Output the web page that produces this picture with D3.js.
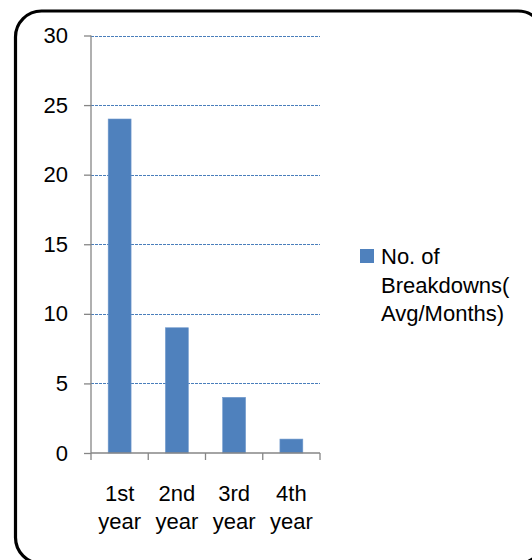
<!DOCTYPE html>
<html>
<head>
<meta charset="utf-8">
<script src="https://cdn.jsdelivr.net/npm/d3@7"></script>
<style>
  html, body { margin: 0; padding: 0; background: #fff; }
  svg { display: block; }
  text { font-family: "Liberation Sans", Arial, sans-serif; fill: #000; }
</style>
</head>
<body>
<svg id="chart" width="532" height="560"></svg>
<script>
const categories = [["1st", "year"], ["2nd", "year"], ["3rd", "year"], ["4th", "year"]];
const values = [24, 9, 4, 1];
const yTicks = [0, 5, 10, 15, 20, 25, 30];
const legendLines = ["No. of", "Breakdowns(", "Avg/Months)"];

const svg = d3.select("#chart");
const keys = categories.map(c => c.join(" "));
const FS = 22;

// outer rounded border
svg.append("rect")
  .attr("x", 15.5).attr("y", 11)
  .attr("width", 528.5).attr("height", 552.5)
  .attr("rx", 26).attr("ry", 26)
  .attr("fill", "none").attr("stroke", "#000").attr("stroke-width", 3.2);

const x = d3.scaleBand().domain(keys).range([91, 320]).paddingInner(0.6).paddingOuter(0.3);
const y = d3.scaleLinear().domain([0, 30]).range([453, 35.5]);

// gridlines
svg.append("g").selectAll("line")
  .data(yTicks.filter(d => d > 0))
  .join("line")
  .attr("x1", 91).attr("x2", 320)
  .attr("y1", d => Math.round(y(d)) + 0.5).attr("y2", d => Math.round(y(d)) + 0.5)
  .attr("stroke", "#4a7ebb").attr("stroke-width", 1)
  .attr("stroke-dasharray", "3,1");

// bars
svg.append("g").selectAll("rect")
  .data(values)
  .join("rect")
  .attr("x", (d, i) => x(keys[i]))
  .attr("y", d => y(d))
  .attr("width", x.bandwidth())
  .attr("height", d => y(0) - y(d))
  .attr("fill", "#4f81bd")
  .attr("stroke", "#6f98cc").attr("stroke-width", 0.6);

// y axis
const yAxis = d3.axisLeft(y).tickValues(yTicks).tickSize(7).tickPadding(16).tickFormat(d3.format("d"));
const gy = svg.append("g").attr("transform", "translate(91,0)").call(yAxis);
gy.attr("font-size", FS).attr("font-family", "Liberation Sans, Arial, sans-serif");
gy.select(".domain").attr("stroke", "#868686").attr("stroke-width", 1.3).attr("d", `M0,${y(30)}V${y(0)}`);
gy.selectAll(".tick line").attr("stroke", "#868686").attr("stroke-width", 1.3);
gy.selectAll(".tick text").attr("font-size", FS).attr("fill", "#000");

// x axis
const gx = svg.append("g").attr("transform", `translate(0,${y(0)})`);
gx.append("line").attr("x1", 91).attr("x2", 320).attr("y1", 0).attr("y2", 0)
  .attr("stroke", "#868686").attr("stroke-width", 1.3);
const bounds = keys.map(k => x(k) - x.step() * x.paddingInner() / 2).concat([320]);
bounds[0] = 91;
gx.selectAll("line.tk").data(bounds).join("line").attr("class", "tk")
  .attr("x1", d => d).attr("x2", d => d).attr("y1", 0).attr("y2", 7)
  .attr("stroke", "#868686").attr("stroke-width", 1.3);
const lbl = gx.selectAll("text.xl").data(categories).join("text").attr("class", "xl")
  .attr("text-anchor", "middle").attr("font-size", FS);
lbl.selectAll("tspan").data((d, i) => d.map(s => ({ s, i })))
  .join("tspan")
  .attr("x", d => x(keys[d.i]) + x.bandwidth() / 2)
  .attr("y", (d, j) => 48 + j * 28)
  .text(d => d.s);

// legend
svg.append("rect").attr("x", 360).attr("y", 249).attr("width", 14).attr("height", 14).attr("fill", "#4f81bd");
svg.append("g").selectAll("text").data(legendLines).join("text")
  .attr("x", 381).attr("y", (d, i) => 264 + i * 28.5)
  .attr("font-size", FS).text(d => d);
</script>
</body>
</html>
